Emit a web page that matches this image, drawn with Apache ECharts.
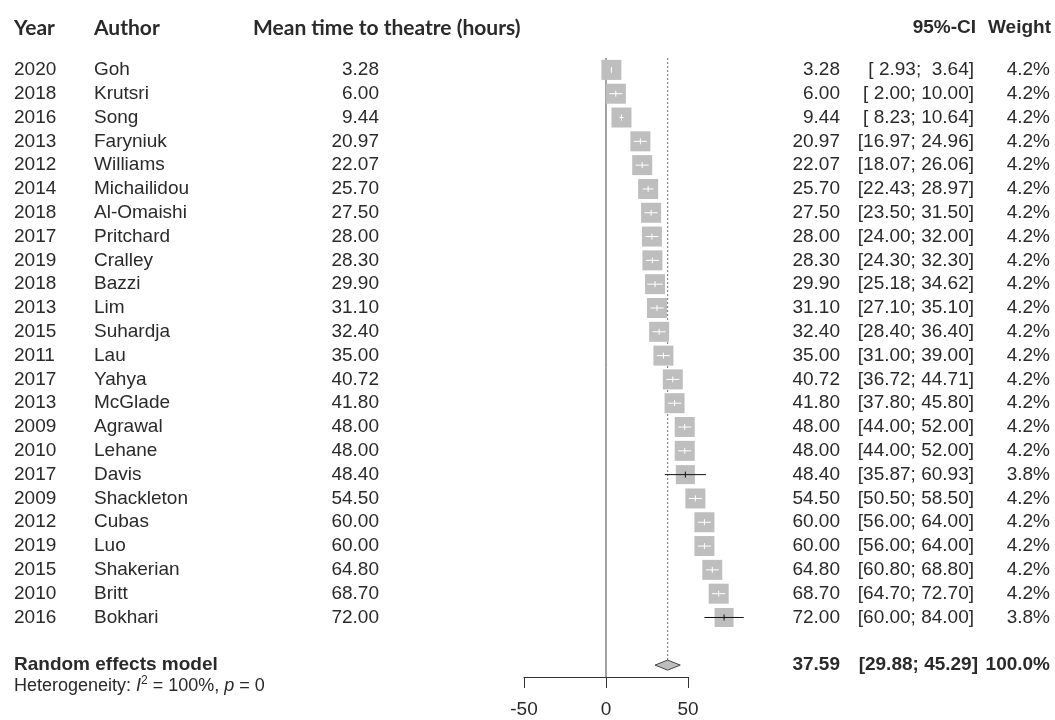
<!DOCTYPE html>
<html>
<head>
<meta charset="utf-8">
<script src="https://cdn.jsdelivr.net/npm/echarts@6/dist/echarts.min.js"></script>
<style>
  html, body { margin: 0; padding: 0; background: #fff; }
  #chart { width: 1055px; height: 720px; }
</style>
</head>
<body>
<div id="chart"></div>
<script>
const years = [2020, 2018, 2016, 2013, 2012, 2014, 2018, 2017, 2019, 2018, 2013, 2015,
  2011, 2017, 2013, 2009, 2010, 2017, 2009, 2012, 2019, 2015, 2010, 2016]
const authors = ['Goh', 'Krutsri', 'Song', 'Faryniuk', 'Williams', 'Michailidou', 'Al-Omaishi',
  'Pritchard', 'Cralley', 'Bazzi', 'Lim', 'Suhardja', 'Lau', 'Yahya', 'McGlade', 'Agrawal',
  'Lehane', 'Davis', 'Shackleton', 'Cubas', 'Luo', 'Shakerian', 'Britt', 'Bokhari']
const means = [3.28, 6.00, 9.44, 20.97, 22.07, 25.70, 27.50, 28.00, 28.30, 29.90, 31.10, 32.40,
  35.00, 40.72, 41.80, 48.00, 48.00, 48.40, 54.50, 60.00, 60.00, 64.80, 68.70, 72.00]
const lower = [2.93, 2.00, 8.23, 16.97, 18.07, 22.43, 23.50, 24.00, 24.30, 25.18, 27.10, 28.40,
  31.00, 36.72, 37.80, 44.00, 44.00, 35.87, 50.50, 56.00, 56.00, 60.80, 64.70, 60.00]
const upper = [3.64, 10.00, 10.64, 24.96, 26.06, 28.97, 31.50, 32.00, 32.30, 34.62, 35.10, 36.40,
  39.00, 44.71, 45.80, 52.00, 52.00, 60.93, 58.50, 64.00, 64.00, 68.80, 72.70, 84.00]
const weights = [4.2, 4.2, 4.2, 4.2, 4.2, 4.2, 4.2, 4.2, 4.2, 4.2, 4.2, 4.2,
  4.2, 4.2, 4.2, 4.2, 4.2, 3.8, 4.2, 4.2, 4.2, 4.2, 4.2, 3.8]
const pooled = [37.59, 29.88, 45.29, 100.0] // estimate, lower, upper, weight
const xTicks = [-50, 0, 50]

const rePos = years.length + 1 // row of the random effects model
const textCol = '#2a2a2a'
const bodyFont = '"Liberation Sans", Arial, sans-serif'
const headFont = 'Lato, "Open Sans", sans-serif'

const fmt = v => v.toFixed(2)
const ciText = (lo, hi) => '[' + fmt(lo).padStart(5, ' ') + '; ' + fmt(hi).padStart(5, ' ') + ']'

function txt(x, y, text, align, extra) {
  return {
    type: 'text',
    style: Object.assign({
      x, y, text,
      align: align || 'left',
      verticalAlign: 'middle',
      fill: textCol,
      fontSize: 19,
      fontFamily: bodyFont
    }, extra || {})
  }
}

const chart = echarts.init(document.getElementById('chart'))

chart.setOption({
  animation: false,
  grid: { left: 524, width: 164, top: 58, height: 619 },
  xAxis: {
    type: 'value',
    position: 'bottom',
    min: xTicks[0],
    max: xTicks[xTicks.length - 1],
    interval: 50,
    splitLine: { show: false },
    axisLine: { show: true, onZero: false, lineStyle: { color: '#333', width: 1 } },
    axisTick: { show: true, length: 11, lineStyle: { color: '#333', width: 1 } },
    axisLabel: { margin: 23, fontSize: 19, color: textCol, fontFamily: bodyFont }
  },
  yAxis: {
    type: 'value',
    inverse: true,
    min: -0.5,
    max: rePos + 0.5,
    show: false
  },
  graphic: [
    txt(14, 28, 'Year', 'left', { fontFamily: headFont, fontWeight: 'bold', fontSize: 21 }),
    txt(94, 28, 'Author', 'left', { fontFamily: headFont, fontWeight: 'bold', fontSize: 21 }),
    txt(253, 28, 'Mean time to theatre (hours)', 'left', { fontFamily: headFont, fontWeight: 'bold', fontSize: 21 }),
    txt(976, 28, '95%-CI', 'right', { fontWeight: 'bold' }),
    txt(1051, 28, 'Weight', 'right', { fontWeight: 'bold' })
  ],
  series: [
    {
      // reference lines: zero line and pooled estimate
      type: 'custom',
      clip: false,
      silent: true,
      data: [[0]],
      renderItem(params, api) {
        const top = api.coord([0, -0.5])
        const bot = api.coord([0, rePos + 0.5])
        const pTop = api.coord([pooled[0], -0.5])
        const pBot = api.coord([pooled[0], rePos])
        return {
          type: 'group',
          children: [
            {
              type: 'line',
              shape: { x1: top[0], y1: top[1], x2: bot[0], y2: bot[1] },
              style: { stroke: '#444', lineWidth: 1 }
            },
            {
              type: 'line',
              shape: { x1: pTop[0], y1: pTop[1], x2: pBot[0], y2: pBot[1] - 5 },
              style: { stroke: '#777', lineWidth: 1, lineDash: [2, 2] }
            }
          ]
        }
      }
    },
    {
      // study squares with CI whiskers
      type: 'custom',
      clip: false,
      silent: true,
      data: means.map((m, i) => [m, i, lower[i], upper[i], weights[i]]),
      renderItem(params, api) {
        const c = api.coord([api.value(0), api.value(1)])
        const lo = api.coord([api.value(2), api.value(1)])
        const hi = api.coord([api.value(3), api.value(1)])
        const s = 20 * Math.sqrt(api.value(4) / 4.2)
        const inside = lo[0] >= c[0] - s / 2 && hi[0] <= c[0] + s / 2
        const lc = inside ? '#fff' : '#111'
        return {
          type: 'group',
          children: [
            {
              type: 'rect',
              shape: { x: c[0] - s / 2, y: c[1] - s / 2, width: s, height: s },
              style: { fill: '#bebebe' }
            },
            {
              type: 'line',
              shape: { x1: lo[0], y1: c[1], x2: hi[0], y2: c[1] },
              style: { stroke: lc, lineWidth: 1 }
            },
            {
              type: 'line',
              shape: { x1: c[0], y1: c[1] - 3, x2: c[0], y2: c[1] + 3 },
              style: { stroke: lc, lineWidth: 1 }
            }
          ]
        }
      }
    },
    {
      // pooled diamond
      type: 'custom',
      clip: false,
      silent: true,
      data: [[pooled[0], rePos, pooled[1], pooled[2]]],
      renderItem(params, api) {
        const c = api.coord([api.value(0), api.value(1)])
        const lo = api.coord([api.value(2), api.value(1)])
        const hi = api.coord([api.value(3), api.value(1)])
        const h = 5
        return {
          type: 'polygon',
          shape: { points: [[lo[0], c[1]], [c[0], c[1] - h], [hi[0], c[1]], [c[0], c[1] + h]] },
          style: { fill: '#bebebe', stroke: '#444', lineWidth: 1 }
        }
      }
    },
    {
      // text columns for each study
      type: 'custom',
      clip: false,
      silent: true,
      data: years.map((y, i) => [0, i]),
      renderItem(params, api) {
        const i = params.dataIndex
        const y = api.coord([0, api.value(1)])[1]
        return {
          type: 'group',
          children: [
            txt(14, y, String(years[i])),
            txt(94, y, authors[i]),
            txt(379, y, fmt(means[i]), 'right'),
            txt(840, y, fmt(means[i]), 'right'),
            txt(974, y, ciText(lower[i], upper[i]), 'right'),
            txt(1050, y, weights[i].toFixed(1) + '%', 'right')
          ]
        }
      }
    },
    {
      // random effects model row
      type: 'custom',
      clip: false,
      silent: true,
      data: [[0, rePos]],
      renderItem(params, api) {
        const y = api.coord([0, api.value(1)])[1]
        const b = { fontWeight: 'bold' }
        return {
          type: 'group',
          children: [
            txt(14, y, 'Random effects model', 'left', b),
            txt(840, y, fmt(pooled[0]), 'right', b),
            txt(978, y, ciText(pooled[1], pooled[2]), 'right', b),
            txt(1050, y, pooled[3].toFixed(1) + '%', 'right', b),
            txt(14, y + 21, 'Heterogeneity: {it|I}{sup|2} = 100%, {it|p} = 0', 'left', {
              fontSize: 18,
              rich: {
                it: { fontStyle: 'italic', fontSize: 18, fontFamily: bodyFont, fill: textCol },
                sup: { fontSize: 12, fontFamily: bodyFont, fill: textCol, padding: [0, 0, 10, 0] }
              }
            })
          ]
        }
      }
    }
  ]
})
</script>
</body>
</html>
